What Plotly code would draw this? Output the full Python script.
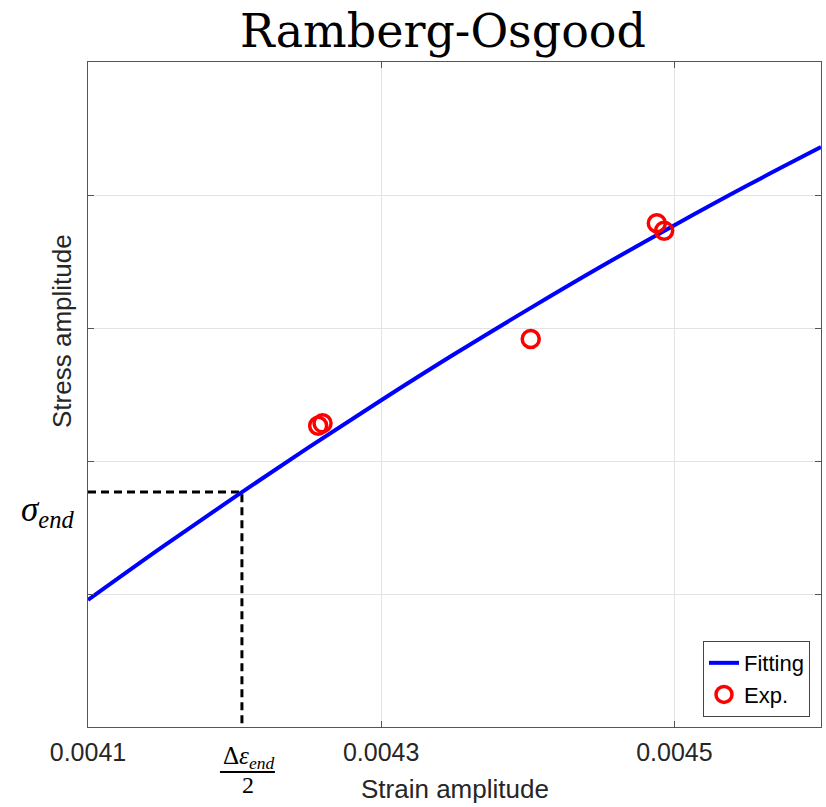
import plotly.graph_objects as go

# Fitted Ramberg-Osgood curve
fit_strain = [0.00410, 0.00415, 0.00420, 0.00425, 0.00430, 0.00435,
              0.00440, 0.00445, 0.00450, 0.00455, 0.00460]
fit_stress = [0.955, 1.348, 1.729, 2.099, 2.457, 2.804,
              3.138, 3.462, 3.773, 4.073, 4.360]

# Experimental points
exp_strain = [0.004257, 0.004260, 0.004402, 0.004488, 0.004493]
exp_stress = [2.265, 2.283, 2.917, 3.787, 3.732]

# End point marker (dashed guide lines)
end_strain = 0.004205
end_stress = 1.766

x_range = [0.0041, 0.0046]
y_range = [0, 5]
x_ticks = [0.0041, 0.0043, 0.0045]
x_tick_labels = ["0.0041", "0.0043", "0.0045"]
y_ticks = [1, 2, 3, 4]

fig = go.Figure()

fig.add_trace(go.Scatter(
    x=[x_range[0], end_strain, end_strain],
    y=[end_stress, end_stress, y_range[0]],
    mode="lines",
    line=dict(color="black", width=3, dash="8px,5px"),
    showlegend=False, hoverinfo="skip"))

fig.add_trace(go.Scatter(
    x=fit_strain, y=fit_stress, mode="lines", name="Fitting",
    line=dict(color="#0000ff", width=4, shape="spline")))

fig.add_trace(go.Scatter(
    x=exp_strain, y=exp_stress, mode="markers", name="Exp.",
    marker=dict(symbol="circle-open", size=17, color="#ff0000",
                line=dict(width=3.5, color="#ff0000"))))

axis_col = "#555555"
fig.update_xaxes(range=x_range, tickvals=x_ticks, ticktext=x_tick_labels,
                 showgrid=True, gridcolor="#e3e3e3", gridwidth=1,
                 showline=True, linecolor=axis_col, linewidth=1, mirror="ticks",
                 ticks="inside", ticklen=6, tickcolor=axis_col,
                 tickfont=dict(family="Liberation Sans, Arial", size=25, color="#262626"),
                 ticklabelstandoff=3, zeroline=False)
fig.update_yaxes(range=y_range, tickvals=y_ticks, showticklabels=False,
                 showgrid=True, gridcolor="#e3e3e3", gridwidth=1,
                 showline=True, linecolor=axis_col, linewidth=1, mirror="ticks",
                 ticks="inside", ticklen=6, tickcolor=axis_col, zeroline=False)

x_end_dom = (end_strain - x_range[0]) / (x_range[1] - x_range[0])

annotations = [
    dict(text="Ramberg-Osgood", xref="paper", yref="paper", x=0.4843, y=1.046,
         xanchor="center", yanchor="middle", showarrow=False,
         font=dict(family="DejaVu Serif", size=46, color="black")),
    dict(text="Stress amplitude", xref="paper", yref="paper", x=-0.0355, y=0.5955,
         xanchor="center", yanchor="middle", textangle=-90, showarrow=False,
         font=dict(family="Liberation Sans, Arial", size=26, color="#262626")),
    dict(text="Strain amplitude", xref="paper", yref="paper", x=0.5007, y=-0.093,
         xanchor="center", yanchor="middle", showarrow=False,
         font=dict(family="Liberation Sans, Arial", size=26, color="#262626")),
    dict(text="<i>σ</i><sub><i>end</i></sub>", xref="paper", yref="y",
         x=-0.0546, y=end_stress, yshift=-19, xanchor="center", yanchor="middle",
         showarrow=False,
         font=dict(family="Liberation Serif, Times New Roman", size=35, color="black")),
    dict(text="Δ<i>ε</i><sub><i>end</i></sub>", xref="x", yref="paper",
         x=end_strain, xshift=7, y=-0.046, xanchor="center", yanchor="middle",
         showarrow=False,
         font=dict(family="Liberation Serif, Times New Roman", size=25, color="black")),
    dict(text="2", xref="x", yref="paper",
         x=end_strain, xshift=6, y=-0.087, xanchor="center", yanchor="middle",
         showarrow=False,
         font=dict(family="Liberation Serif, Times New Roman", size=24, color="black")),
]

shapes = [
    dict(type="line", xref="x domain", yref="y domain",
         x0=x_end_dom - 0.030, x1=x_end_dom + 0.045, y0=-0.0677, y1=-0.0677,
         line=dict(color="black", width=2)),
]

fig.update_layout(
    width=826, height=807,
    margin=dict(l=88, r=5, t=62, b=80),
    paper_bgcolor="white", plot_bgcolor="white",
    showlegend=True,
    legend=dict(x=0.985, y=0.015, xanchor="right", yanchor="bottom",
                bgcolor="white", bordercolor="#444444", borderwidth=1,
                font=dict(family="Liberation Sans, Arial", size=22, color="black"),
                itemwidth=30, tracegroupgap=0),
    annotations=annotations, shapes=shapes,
)

fig.write_html("out.html")
